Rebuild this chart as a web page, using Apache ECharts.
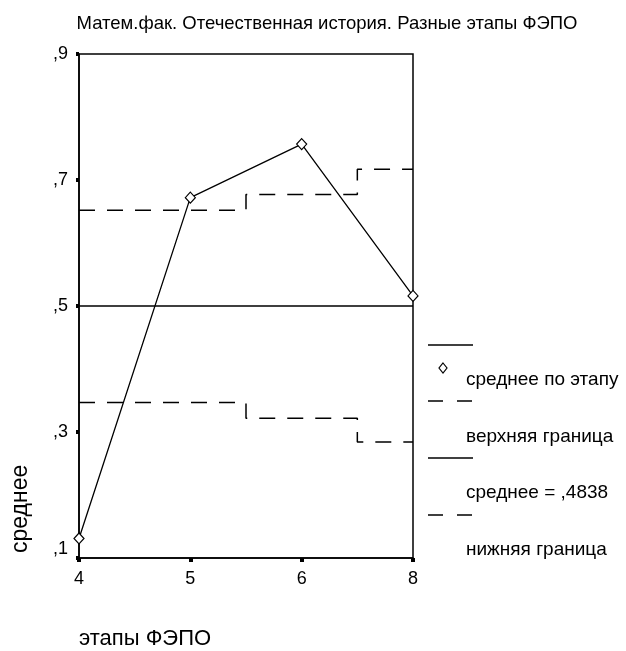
<!DOCTYPE html>
<html>
<head>
<meta charset="utf-8">
<script src="https://cdn.jsdelivr.net/npm/echarts@6/dist/echarts.min.js"></script>
<style>
  html, body { margin: 0; padding: 0; background: #fff; }
  #chart { width: 626px; height: 651px; }
</style>
</head>
<body>
<div id="chart"></div>
<script>
  // этапы ФЭПО
  var stages = ['4', '5', '6', '8'];
  // среднее по этапу
  var stageMean = [0.131, 0.672, 0.757, 0.516];
  // верхняя / нижняя граница
  var upperBound = [0.652, 0.652, 0.677, 0.717];
  var lowerBound = [0.347, 0.347, 0.322, 0.284];
  // общее среднее
  var overallMean = [0.5, 0.5, 0.5, 0.5];
  var yTicks = [0.1, 0.9, 0.2];

  var FONT = 'Liberation Sans, Arial, sans-serif';
  var dash = [16, 12];

  var myChart = echarts.init(document.getElementById('chart'));

  function legendText(txt, y) {
    return { type: 'text', x: 466, y: y, style: { text: txt, font: '19px ' + FONT, fill: '#000', verticalAlign: 'middle' } };
  }

  var option = {
    animation: false,
    backgroundColor: '#fff',
    textStyle: { fontFamily: FONT, color: '#000' },
    title: {
      text: 'Матем.фак. Отечественная история. Разные этапы ФЭПО',
      left: 322,
      top: 9,
      textAlign: 'center',
      textStyle: { fontFamily: FONT, fontSize: 18.5, fontWeight: 'normal', color: '#000' }
    },
    grid: {
      left: 79, right: 213, top: 54, bottom: 93,
      show: true, borderColor: '#000', borderWidth: 1.5, backgroundColor: '#fff'
    },
    xAxis: {
      type: 'category',
      data: stages,
      boundaryGap: false,
      name: 'этапы ФЭПО',
      nameLocation: 'start',
      nameGap: 0,
      nameTextStyle: { fontSize: 22, color: '#000', align: 'left', verticalAlign: 'top', padding: [70, 0, 0, 0] },
      axisLine: { lineStyle: { color: '#000', width: 1.5 } },
      axisTick: { show: true, length: 4, lineStyle: { color: '#000', width: 4 } },
      axisLabel: { fontSize: 18, color: '#000', margin: 12 },
      splitLine: { show: false }
    },
    yAxis: {
      type: 'value',
      min: yTicks[0], max: yTicks[1], interval: yTicks[2],
      name: 'среднее',
      nameLocation: 'start',
      nameRotate: 90,
      nameGap: 0,
      nameTextStyle: { fontSize: 23, color: '#000', align: 'left', verticalAlign: 'bottom', padding: [0, 0, 47, 5] },
      axisLine: { show: true, lineStyle: { color: '#000', width: 1.5 } },
      axisTick: { show: true, length: 3, lineStyle: { color: '#000', width: 4 } },
      axisLabel: {
        fontSize: 18, color: '#000', margin: 11,
        verticalAlignMinLabel: 'bottom',
        formatter: function (v) { return v.toFixed(1).replace('0.', ','); }
      },
      splitLine: { show: false }
    },
    series: [
      {
        name: 'верхняя граница', type: 'line', data: upperBound, step: 'middle',
        symbol: 'none', lineStyle: { color: '#000', width: 1.5, type: dash }
      },
      {
        name: 'нижняя граница', type: 'line', data: lowerBound, step: 'middle',
        symbol: 'none', lineStyle: { color: '#000', width: 1.5, type: dash }
      },
      {
        name: 'среднее', type: 'line', data: overallMean,
        symbol: 'none', lineStyle: { color: '#000', width: 1.5 }
      },
      {
        name: 'среднее по этапу', type: 'line', data: stageMean,
        symbol: 'diamond', symbolSize: [10, 11],
        lineStyle: { color: '#000', width: 1.3 },
        itemStyle: { color: '#fff', borderColor: '#000', borderWidth: 1.2 }
      }
    ],
    graphic: [
      // legend
      { type: 'line', shape: { x1: 428, y1: 345, x2: 473, y2: 345 }, style: { stroke: '#000', lineWidth: 1.5 } },
      { type: 'polygon', shape: { points: [[443, 363], [447, 368], [443, 373], [439, 368]] }, style: { fill: '#fff', stroke: '#000', lineWidth: 1.2 } },
      legendText('среднее по этапу', 380),
      { type: 'line', shape: { x1: 428, y1: 401, x2: 473, y2: 401 }, style: { stroke: '#000', lineWidth: 1.5, lineDash: [15, 14] } },
      legendText('верхняя граница', 437),
      { type: 'line', shape: { x1: 428, y1: 458, x2: 473, y2: 458 }, style: { stroke: '#000', lineWidth: 1.5 } },
      legendText('среднее = ,4838', 493),
      { type: 'line', shape: { x1: 428, y1: 515, x2: 473, y2: 515 }, style: { stroke: '#000', lineWidth: 1.5, lineDash: [15, 14] } },
      legendText('нижняя граница', 550)
    ]
  };
  myChart.setOption(option);
  window.addEventListener('resize', function () {
    myChart.resize();
  }, false);
</script>
</body>
</html>
